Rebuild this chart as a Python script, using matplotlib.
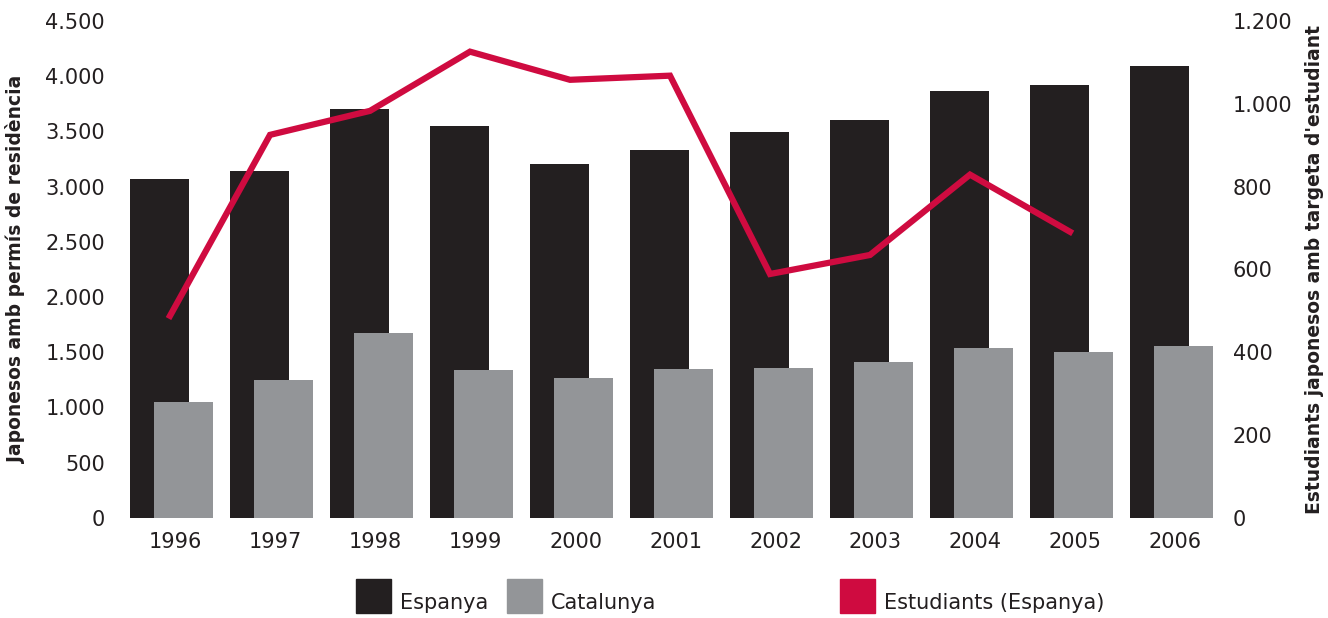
import matplotlib.pyplot as plt
import matplotlib.patches as mpatches
from matplotlib.ticker import FuncFormatter
import numpy as np

plt.rcParams['font.family'] = ['DejaVu Sans']

years = ['1996', '1997', '1998', '1999', '2000', '2001',
         '2002', '2003', '2004', '2005', '2006']
espanya = [3070, 3143, 3705, 3551, 3207, 3333, 3496, 3605, 3868, 3922, 4094]
catalunya = [1051, 1250, 1676, 1341, 1268, 1350, 1359, 1413, 1540, 1504, 1558]
estudiants = [488, 925, 983, 1126, 1058, 1068, 589, 635, 829, 691]

dark = '#231f20'
grey = '#939598'
red = '#cf0b40'

def dots(v, pos):
    return '{:,.0f}'.format(v).replace(',', '.')

fig = plt.figure(figsize=(13.28, 6.18), dpi=100)
ax = fig.add_axes([0.0915, 0.162, 0.8283, 0.804])
x = np.arange(len(years))

ax.bar(x - 0.12, espanya, width=0.59, color=dark, zorder=2)
ax.bar(x + 0.12, catalunya, width=0.59, color=grey, zorder=3)

ax.set_xlim(-0.5, len(years) - 0.5)
ax.set_ylim(0, 4500)
ax.set_yticks(np.arange(0, 4501, 500))
ax.yaxis.set_major_formatter(FuncFormatter(dots))
ax.set_xticks(x + 0.04)
ax.set_xticklabels(years)
ax.tick_params(length=0, labelsize=15, colors='#231f20', pad=10)
ax.tick_params(axis='y', pad=12)
for s in ax.spines.values():
    s.set_visible(False)
ax.set_ylabel('Japonesos amb permís de residència', fontsize=13.5,
              fontweight='bold', color=dark, labelpad=14)

ax2 = ax.twinx()
ax2.plot(x[:len(estudiants)] - 0.015, estudiants, color=red, lw=4.5,
         solid_joinstyle='miter', zorder=5)
ax2.set_ylim(0, 1200)
ax2.set_yticks(np.arange(0, 1201, 200))
ax2.yaxis.set_major_formatter(FuncFormatter(dots))
ax2.tick_params(length=0, labelsize=15, colors='#231f20', pad=8)
for s in ax2.spines.values():
    s.set_visible(False)
ax2.set_ylabel("Estudiants japonesos amb targeta d'estudiant", fontsize=13.5,
               fontweight='bold', color=dark, labelpad=9)

# legend at the bottom
W, H = 1328, 618
items = [(356, dark, 'Espanya'), (507, grey, 'Catalunya'),
         (840, red, 'Estudiants (Espanya)')]
for px, c, lab in items:
    fig.add_artist(mpatches.Rectangle((px / W, 1 - 613 / H), 35 / W, 34 / H,
                                      transform=fig.transFigure, color=c))
    fig.text((px + 44) / W, 1 - 603 / H, lab, fontsize=15, color=dark,
             va='center', ha='left')

fig.savefig('out.png', dpi=100)
